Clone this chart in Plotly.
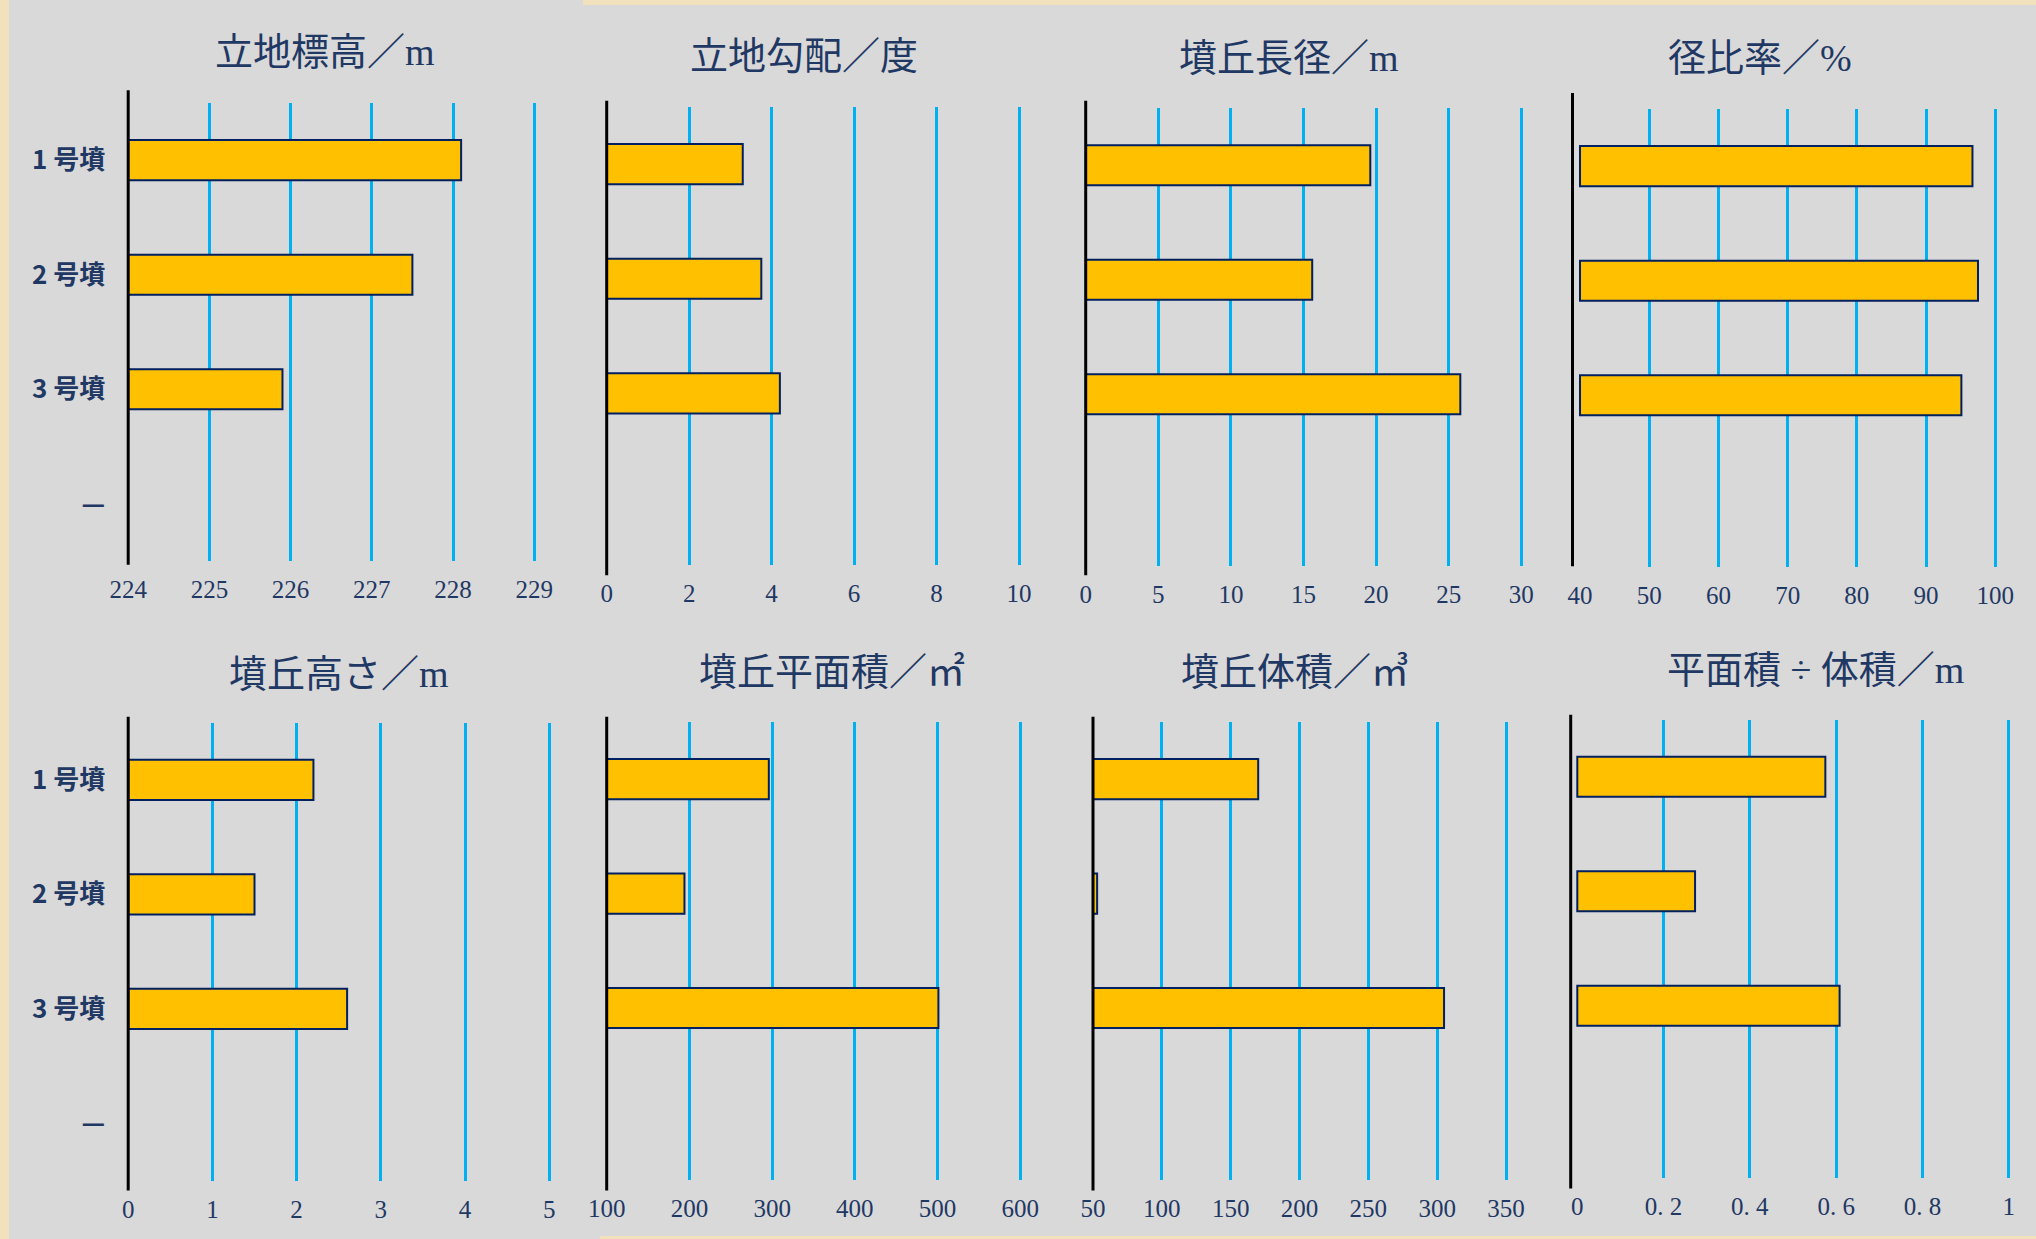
import plotly.graph_objects as go

# ---- data -----------------------------------------------------------------
mounds = ["1 号墳", "2 号墳", "3 号墳", "—"]

elevation_m = [228.1, 227.5, 225.9]      # 立地標高
slope_deg = [3.3, 3.75, 4.2]             # 立地勾配
long_diam_m = [19.6, 15.6, 25.8]         # 墳丘長径
diam_ratio_pct = [96.7, 97.5, 95.1]      # 径比率
mound_height_m = [2.2, 1.5, 2.6]         # 墳丘高さ
plan_area_m2 = [296, 194, 501]           # 墳丘平面積
volume_m3 = [170, 53, 305]               # 墳丘体積
area_volume_m = [0.575, 0.273, 0.608]    # 平面積÷体積

titles = ["立地標高／m", "立地勾配／度", "墳丘長径／m", "径比率／%",
          "墳丘高さ／m", "墳丘平面積／㎡", "墳丘体積／㎥", "平面積 ÷ 体積／m"]

ticks_elev = [224, 225, 226, 227, 228, 229]
ticks_slope = [0, 2, 4, 6, 8, 10]
ticks_long = [0, 5, 10, 15, 20, 25, 30]
ticks_ratio = [40, 50, 60, 70, 80, 90, 100]
ticks_height = [0, 1, 2, 3, 4, 5]
ticks_area = [100, 200, 300, 400, 500, 600]
ticks_volume = [50, 100, 150, 200, 250, 300, 350]
ticks_av = [0, 0.2, 0.4, 0.6, 0.8, 1]
ticktext_av = ["0", "0. 2", "0. 4", "0. 6", "0. 8", "1"]

# ---- page geometry (pixels) ------------------------------------------------
W, H = 2036, 1239
GREY = "#d9d9d9"
BEIGE = "#f1e2bd"
NAVY = "#1f3864"
BAR_FILL = "#ffc000"
BAR_EDGE = "#002060"
GRID = "#00b0f0"

# each panel: first tick px, last tick px, axis-line px, plot top/bottom px,
# axis-line top/bottom px, title centre px
panels = [
    dict(vals=elevation_m, ticks=ticks_elev, p0=128.2, p1=534.2, pl=128.2,
         top=102.8, bot=561.2, ltop=90.2, lbot=564.7, tx=325, ty=52, labels=True),
    dict(vals=slope_deg, ticks=ticks_slope, p0=606.7, p1=1019.0, pl=606.7,
         top=106.8, bot=565.4, ltop=100.8, lbot=575.3, tx=804, ty=56),
    dict(vals=long_diam_m, ticks=ticks_long, p0=1085.7, p1=1521.3, pl=1085.7,
         top=108.1, bot=565.9, ltop=100.8, lbot=575.3, tx=1289, ty=58),
    dict(vals=diam_ratio_pct, ticks=ticks_ratio, p0=1580.0, p1=1995.3, pl=1572.5,
         top=108.8, bot=567.2, ltop=92.9, lbot=566.2, tx=1760, ty=58, base=40),
    dict(vals=mound_height_m, ticks=ticks_height, p0=128.2, p1=549.2, pl=128.2,
         top=722.6, bot=1180.6, ltop=716.7, lbot=1190.5, tx=339, ty=674, labels=True),
    dict(vals=plan_area_m2, ticks=ticks_area, p0=606.7, p1=1020.3, pl=606.7,
         top=721.9, bot=1179.8, ltop=716.7, lbot=1190.5, tx=832, ty=672),
    dict(vals=volume_m3, ticks=ticks_volume, p0=1093.0, p1=1506.0, pl=1093.0,
         top=721.9, bot=1179.8, ltop=716.7, lbot=1190.5, tx=1295, ty=672),
    dict(vals=area_volume_m, ticks=ticks_av, ticktext=ticktext_av, p0=1577.3,
         p1=2008.7, pl=1570.7, top=719.5, bot=1177.5, ltop=714.7, lbot=1188.5,
         tx=1815, ty=670),
]

fig = go.Figure()
layout = dict(
    width=W, height=H, margin=dict(l=0, r=0, t=0, b=0, autoexpand=False),
    paper_bgcolor=GREY, plot_bgcolor=GREY, showlegend=False,
)
shapes = []
annotations = []

# parchment edges around the grey sheet
for x0, y0, x1, y1 in [(0, 0, 9, H), (583, 0, W, 5), (600, H - 3, W, H)]:
    shapes.append(dict(type="rect", xref="paper", yref="paper", layer="below",
                       x0=x0 / W, x1=x1 / W, y0=1 - y1 / H, y1=1 - y0 / H,
                       fillcolor=BEIGE, line=dict(width=0)))

for i, (p, title) in enumerate(zip(panels, titles), start=1):
    xa = "xaxis" if i == 1 else f"xaxis{i}"
    ya = "yaxis" if i == 1 else f"yaxis{i}"
    xr = "x" if i == 1 else f"x{i}"
    yr = "y" if i == 1 else f"y{i}"

    t0, t1 = p["ticks"][0], p["ticks"][-1]
    k = (p["p1"] - p["p0"]) / (t1 - t0)          # px per unit
    rmin = t0 - (p["p0"] - p["pl"]) / k
    rmax = t1 + 4 / k
    base = p.get("base")

    xs = list(p["vals"]) + [None]
    if base is not None:
        xs = [v - base for v in p["vals"]] + [None]

    fig.add_trace(go.Bar(
        x=xs, y=mounds, orientation="h", base=base, width=0.35,
        marker=dict(color=BAR_FILL, line=dict(color=BAR_EDGE, width=2)),
        xaxis=xr, yaxis=yr, hoverinfo="skip",
    ))

    layout[xa] = dict(
        domain=[p["pl"] / W, (p["p1"] + 4) / W], range=[rmin, rmax],
        anchor=yr, showgrid=False, zeroline=False, showline=False,
        automargin=False,
        tickmode="array", tickvals=p["ticks"],
        ticktext=p.get("ticktext", [str(t) for t in p["ticks"]]),
        ticks="", ticklabelstandoff=11,
        tickfont=dict(family="Liberation Serif, DejaVu Serif, serif", size=25, color=NAVY),
        minor=dict(tickmode="array", tickvals=p["ticks"][1:], showgrid=True,
                   gridcolor=GRID, gridwidth=2.5, ticks=""),
        fixedrange=True,
    )
    layout[ya] = dict(
        domain=[1 - p["bot"] / H, 1 - p["top"] / H], anchor=xr,
        type="category", categoryorder="array", categoryarray=mounds,
        range=[3.5, -0.5], showgrid=False, zeroline=False, showline=False,
        automargin=False,
        ticks="", showticklabels=p.get("labels", False), ticklabelstandoff=22,
        tickfont=dict(family="Noto Sans CJK JP", size=26, color=NAVY, weight="bold"),
        fixedrange=True,
    )

    # black value-axis line at the left of each panel
    shapes.append(dict(type="line", xref="paper", yref="paper", layer="above",
                       x0=p["pl"] / W, x1=p["pl"] / W,
                       y0=1 - p["lbot"] / H, y1=1 - p["ltop"] / H,
                       line=dict(color="#000000", width=3)))

    annotations.append(dict(
        text=title, xref="paper", yref="paper", x=p["tx"] / W, y=1 - p["ty"] / H,
        xanchor="center", yanchor="middle", showarrow=False,
        font=dict(family="Liberation Serif, Noto Sans CJK JP", size=38, color=NAVY),
    ))

layout["shapes"] = shapes
layout["annotations"] = annotations
fig.update_layout(**layout)

fig.write_html("out.html")
